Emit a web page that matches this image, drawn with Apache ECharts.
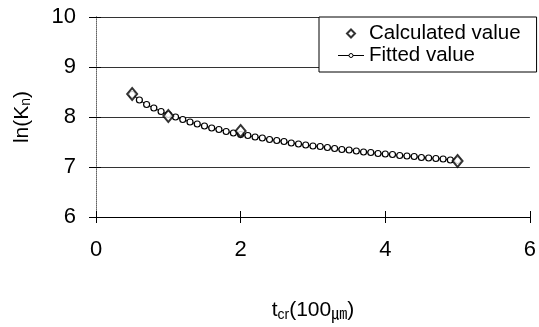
<!DOCTYPE html>
<html>
<head>
<meta charset="utf-8">
<script src="https://cdn.jsdelivr.net/npm/echarts@6/dist/echarts.min.js"></script>
<style>html,body{margin:0;padding:0;background:#fff}#c{width:539px;height:327px}</style>
</head>
<body>
<div id="c"></div>
<script>
var calcX = [0.5, 1, 2, 5];
var calcY = [8.46, 8.02, 7.72, 7.12];
var fitX = [0.5,0.6,0.7,0.8,0.9,1.0,1.1,1.2,1.3,1.4,1.5,1.6,1.7,1.8,1.9,2.0,2.1,2.2,2.3,2.4,2.5,2.6,2.7,2.8,2.9,3.0,3.1,3.2,3.3,3.4,3.5,3.6,3.7,3.8,3.9,4.0,4.1,4.2,4.3,4.4,4.5,4.6,4.7,4.8,4.9,5.0];
var fitY = [8.45,8.34,8.25,8.18,8.11,8.05,8.00,7.95,7.90,7.86,7.82,7.78,7.75,7.71,7.68,7.65,7.63,7.60,7.58,7.55,7.53,7.51,7.48,7.46,7.44,7.42,7.41,7.39,7.37,7.35,7.34,7.32,7.30,7.29,7.27,7.26,7.25,7.23,7.22,7.21,7.19,7.18,7.17,7.16,7.14,7.13];
var xTicks = [0, 2, 4, 6];
var yTicks = [6, 7, 8, 9, 10];

var FONT = 'Liberation Sans, Arial, sans-serif';
var calcData = calcX.map(function (x, i) { return [x, calcY[i]]; });
var fitData = fitX.map(function (x, i) { return [x, fitY[i]]; });

var chart = echarts.init(document.getElementById('c'), null, {renderer: 'canvas'});
chart.setOption({
  backgroundColor: '#fff',
  animation: false,
  grid: {left: 96, right: 7, top: 17, bottom: 100, containLabel: false},
  legend: {
    left: 319, top: 17, orient: 'vertical',
    backgroundColor: '#fff', borderColor: '#000', borderWidth: 1,
    padding: [6, 16, 6, 18], itemGap: 1, itemWidth: 26, itemHeight: 10,
    textStyle: {fontFamily: FONT, fontSize: 20.5, color: '#000', lineHeight: 20},
    data: [
      {name: 'Calculated value', icon: 'path://M0,0L0,0M26,10L26,10M13,1L17,5L13,9L9,5Z',
       itemStyle: {color: '#fff', borderColor: '#000', borderWidth: 2}},
      {name: 'Fitted value', icon: 'path://M0,0L0,0M26,10L26,10M0,5L11,5M15,5L26,5M11,5A2,2 0 1 1 15,5A2,2 0 1 1 11,5Z',
       itemStyle: {color: '#fff', borderColor: '#000', borderWidth: 1}}
    ]
  },
  xAxis: [{
    type: 'value', min: xTicks[0], max: xTicks[xTicks.length - 1], interval: 2,
    axisLine: {onZero: false, lineStyle: {color: '#000', width: 1}},
    axisTick: {show: true, length: 6, lineStyle: {color: '#000'}},
    splitLine: {show: false},
    axisLabel: {fontFamily: FONT, fontSize: 22, color: '#000', margin: 22},
    nameLocation: 'middle', nameGap: 82,
    name: '{t|t}{s|cr}{n|(100}{u|㎛}{n|)}',
    nameTextStyle: {
      rich: {
        t: {fontFamily: FONT, fontSize: 21, color: '#000'},
        s: {fontFamily: FONT, fontSize: 14, color: '#000', padding: [9, 0, 0, 0]},
        n: {fontFamily: FONT, fontSize: 21, color: '#000'},
        u: {fontFamily: 'Noto Sans CJK JP, sans-serif', fontSize: 16, color: '#000', padding: [4, 0, 0, 0]}
      }
    }
  }, {
    type: 'value', position: 'bottom', min: 0, max: 6, interval: 2,
    axisLine: {show: false}, axisLabel: {show: false}, splitLine: {show: false},
    axisTick: {show: true, inside: true, length: 6, lineStyle: {color: '#000'}}
  }],
  yAxis: [{
    type: 'value', min: yTicks[0], max: yTicks[yTicks.length - 1], interval: 1,
    axisLine: {show: true, onZero: false, lineStyle: {color: '#000', width: 1}},
    axisTick: {show: true, length: 7, lineStyle: {color: '#000'}},
    splitLine: {show: true, lineStyle: {color: '#333', width: 1}},
    axisLabel: {fontFamily: FONT, fontSize: 22, color: '#000', margin: 20},
    nameLocation: 'middle', nameGap: 63, nameRotate: 90,
    name: '{a|ln(K}{s|n}{a|)}',
    nameTextStyle: {
      rich: {
        a: {fontFamily: FONT, fontSize: 21, color: '#000'},
        s: {fontFamily: FONT, fontSize: 14, color: '#000', padding: [8, 0, 0, 0]}
      }
    }
  }, {
    type: 'value', position: 'left', min: 6, max: 10, interval: 1,
    axisLine: {show: false}, axisLabel: {show: false}, splitLine: {show: false},
    axisTick: {show: true, inside: true, length: 5, lineStyle: {color: '#000'}}
  }, {
    type: 'value', position: 'right', min: 6, max: 10, interval: 1,
    axisLine: {show: true, lineStyle: {color: '#999', width: 1, type: 'dotted'}},
    axisLabel: {show: false}, splitLine: {show: false}, axisTick: {show: false}
  }],
  series: [{
    name: 'Fitted value', type: 'line', data: fitData,
    symbol: 'circle', symbolSize: 6, showAllSymbol: true,
    lineStyle: {color: '#000', width: 1},
    itemStyle: {color: '#fff', borderColor: '#000', borderWidth: 1.2},
    z: 3
  }, {
    name: 'Calculated value', type: 'scatter', data: calcData,
    symbol: 'diamond', symbolSize: [10, 12],
    itemStyle: {color: '#fff', borderColor: '#000', borderWidth: 2},
    z: 4
  }]
});
</script>
</body>
</html>
